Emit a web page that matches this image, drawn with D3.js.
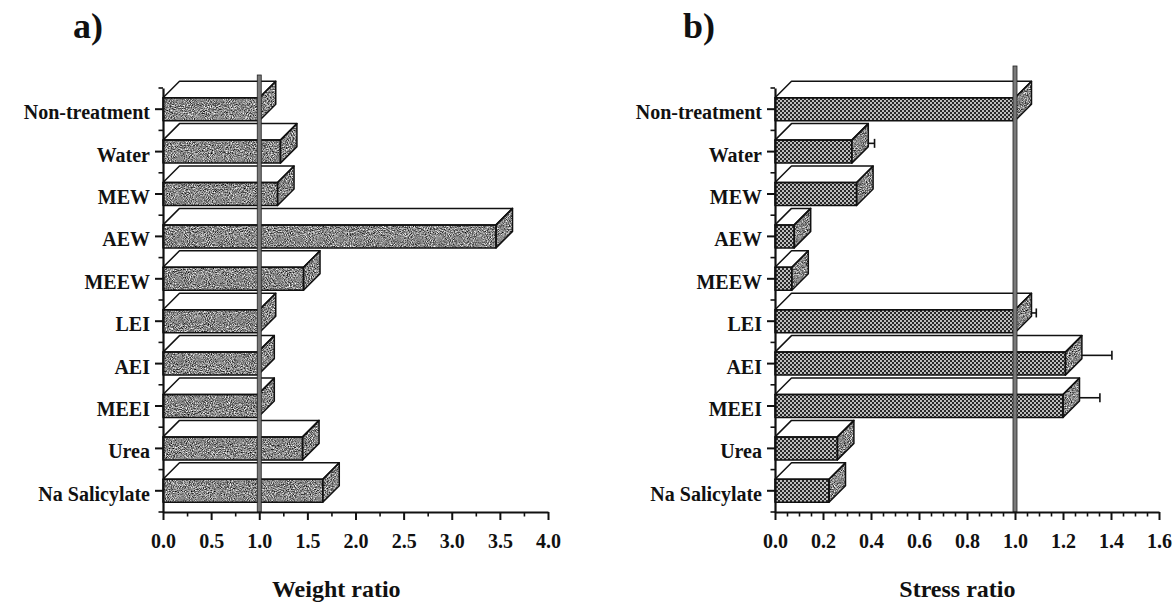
<!DOCTYPE html>
<html>
<head>
<meta charset="utf-8">
<script src="https://cdn.jsdelivr.net/npm/d3@7"></script>
<style>
  html, body { margin: 0; padding: 0; background: #fff; }
  svg { display: block; }
  text { font-family: "Liberation Serif", "Times New Roman", serif; font-weight: bold; fill: #111; }
</style>
</head>
<body>
<svg id="chart" width="1173" height="602"></svg>
<script>
// Treatments, listed top to bottom
const categories = ["Non-treatment", "Water", "MEW", "AEW", "MEEW", "LEI", "AEI", "MEEI", "Urea", "Na Salicylate"];

// Panel a) weight ratio
const weightRatio = [1.00, 1.22, 1.19, 3.46, 1.46, 1.00, 0.985, 0.985, 1.45, 1.66];
const weightTicks = [0, 0.5, 1.0, 1.5, 2.0, 2.5, 3.0, 3.5, 4.0];

// Panel b) stress ratio with its error (one-sided)
const stressRatio = [1.00, 0.32, 0.34, 0.08, 0.07, 1.00, 1.21, 1.20, 0.26, 0.225];
const stressError = [0, 0.026, 0, 0, 0, 0.02, 0.125, 0.085, 0, 0];
const stressTicks = [0, 0.2, 0.4, 0.6, 0.8, 1.0, 1.2, 1.4, 1.6];

const svg = d3.select("#chart");
svg.append("rect").attr("width", 1173).attr("height", 602).attr("fill", "#fff");

const defs = svg.append("defs");

// grainy grey fill for the shaded faces
const grain = defs.append("filter")
  .attr("id", "grain")
  .attr("x", 0).attr("y", 0).attr("width", 1).attr("height", 1)
  .attr("color-interpolation-filters", "sRGB");
grain.append("feTurbulence")
  .attr("type", "fractalNoise").attr("baseFrequency", 0.95)
  .attr("numOctaves", 2).attr("seed", 7).attr("result", "noise");
grain.append("feColorMatrix")
  .attr("in", "noise").attr("type", "matrix")
  .attr("values", "1.5 0 0 0 -0.22  1.5 0 0 0 -0.22  1.5 0 0 0 -0.22  0 0 0 0 1")
  .attr("result", "gray");
grain.append("feComposite").attr("in", "gray").attr("in2", "SourceGraphic").attr("operator", "in");

// dotted fill for the stress-ratio bars
const dots = defs.append("pattern")
  .attr("id", "dots").attr("patternUnits", "userSpaceOnUse")
  .attr("width", 4).attr("height", 4);
dots.append("rect").attr("width", 4).attr("height", 4).attr("fill", "#2a2a2a");
dots.append("circle").attr("cx", 1).attr("cy", 1).attr("r", 0.95).attr("fill", "#fff");
dots.append("circle").attr("cx", 3).attr("cy", 3).attr("r", 0.95).attr("fill", "#fff");

const yRange = [88, 512];
const depth = 16.5;
const frontH = 23;

function drawPanel(cfg) {
  const g = svg.append("g");
  const x = d3.scaleLinear().domain([cfg.ticks[0], cfg.ticks[cfg.ticks.length - 1]]).range(cfg.xRange);
  const y = d3.scaleBand().domain(categories).range(yRange).paddingInner(0).paddingOuter(0);
  const bw = y.bandwidth();

  const rows = categories.map((c, i) => {
    const yc = y(c) + bw / 2;
    return {
      c, v: cfg.values[i], e: cfg.errors ? cfg.errors[i] : 0,
      x0: x(0), x1: x(cfg.values[i]),
      ft: yc - frontH / 2, fb: yc + frontH / 2
    };
  });

  const poly = pts => "M" + pts.map(p => p.join(",")).join("L") + "Z";
  const topFace = r => poly([[r.x0, r.ft], [r.x0 + depth, r.ft - depth], [r.x1 + depth, r.ft - depth], [r.x1, r.ft]]);
  const sideFace = r => poly([[r.x1, r.ft], [r.x1 + depth, r.ft - depth], [r.x1 + depth, r.fb - depth], [r.x1, r.fb]]);
  const frontFace = r => poly([[r.x0, r.ft], [r.x1, r.ft], [r.x1, r.fb], [r.x0, r.fb]]);

  const bars = g.append("g").selectAll("g").data(rows).join("g");
  bars.append("path").attr("d", topFace).attr("fill", "#fff");
  bars.append("path").attr("d", sideFace).attr("fill", "#888").attr("filter", "url(#grain)");
  if (cfg.frontFill === "grain") {
    bars.append("path").attr("d", frontFace).attr("fill", "#888").attr("filter", "url(#grain)");
  } else {
    bars.append("path").attr("d", frontFace).attr("fill", "url(#dots)");
  }
  bars.append("path").attr("d", topFace).attr("fill", "none").attr("stroke", "#111").attr("stroke-width", 1.5).attr("stroke-linejoin", "round");
  bars.append("path").attr("d", sideFace).attr("fill", "none").attr("stroke", "#111").attr("stroke-width", 1.5).attr("stroke-linejoin", "round");
  bars.append("path").attr("d", frontFace).attr("fill", "none").attr("stroke", "#111").attr("stroke-width", 1.5).attr("stroke-linejoin", "round");

  // error bars leave from the outer edge of the bar, at mid height of the block
  const errRows = rows.filter(r => r.e > 0);
  const eg = g.append("g").attr("stroke", "#111").attr("stroke-width", 1.6);
  errRows.forEach(r => {
    const ym = (r.ft - depth + r.fb) / 2;
    const xe = x(r.v + r.e) + depth;
    eg.append("line").attr("x1", r.x1 + depth).attr("x2", xe).attr("y1", ym).attr("y2", ym);
    eg.append("line").attr("x1", xe).attr("x2", xe).attr("y1", ym - 4.5).attr("y2", ym + 4.5);
  });

  // reference line at ratio 1.0
  g.append("rect")
    .attr("x", x(1) - 2).attr("width", 4)
    .attr("y", cfg.refTop).attr("height", yRange[1] - cfg.refTop)
    .attr("fill", "#7a7a7a").attr("stroke", "#222").attr("stroke-width", 0.8);

  // x axis: labelled major ticks and short minor ticks
  const minor = d3.range(cfg.ticks[0], cfg.ticks[cfg.ticks.length - 1] + 1e-9, cfg.minorStep)
    .filter(v => !cfg.ticks.some(t => Math.abs(t - v) < 1e-9));
  const xMinor = g.append("g").attr("transform", `translate(0,${yRange[1]})`)
    .call(d3.axisBottom(x).tickValues(minor).tickSize(4.5).tickSizeOuter(0).tickFormat(""));
  xMinor.select(".domain").remove();
  xMinor.selectAll("line").attr("stroke", "#111").attr("stroke-width", 1.6);

  const xAxis = g.append("g").attr("transform", `translate(0,${yRange[1]})`)
    .call(d3.axisBottom(x).tickValues(cfg.ticks).tickSize(8).tickSizeOuter(0).tickPadding(14).tickFormat(d3.format(".1f")));
  xAxis.select(".domain").attr("stroke", "#111").attr("stroke-width", 2.2);
  xAxis.selectAll("line").attr("stroke", "#111").attr("stroke-width", 2);
  xAxis.selectAll("text").attr("font-size", 20).attr("fill", "#111")
    .style("font-family", "'Liberation Serif', 'Times New Roman', serif").style("font-weight", "bold");

  // y axis: category ticks at band centres, minor ticks at band edges
  const yAxis = g.append("g").attr("transform", `translate(${x(0)},0)`)
    .call(d3.axisLeft(y).tickSize(8).tickSizeOuter(0).tickPadding(5));
  yAxis.select(".domain").attr("stroke", "#111").attr("stroke-width", 2.2);
  yAxis.selectAll("line").attr("stroke", "#111").attr("stroke-width", 2);
  yAxis.selectAll("text").attr("font-size", 20).attr("dy", "0.5em").attr("fill", "#111")
    .style("font-family", "'Liberation Serif', 'Times New Roman', serif").style("font-weight", "bold");
  const edges = categories.map(c => y(c)).concat([yRange[1]]);
  yAxis.append("g").selectAll("line").data(edges).join("line")
    .attr("x1", -4.5).attr("x2", 0).attr("y1", d => d).attr("y2", d => d)
    .attr("stroke", "#111").attr("stroke-width", 1.6);

  // axis title
  g.append("text")
    .attr("x", x(cfg.titleAt)).attr("y", 597)
    .attr("text-anchor", "middle").attr("font-size", 24)
    .text(cfg.title);

  // panel letter
  g.append("text")
    .attr("x", x(0) - 60).attr("y", 38)
    .attr("text-anchor", "end").attr("font-size", 36)
    .text(cfg.letter);
}

drawPanel({
  values: weightRatio, errors: null, ticks: weightTicks, minorStep: 0.25,
  xRange: [163, 548], frontFill: "grain", refTop: 75,
  title: "Weight ratio", titleAt: 1.8, letter: "a)"
});

drawPanel({
  values: stressRatio, errors: stressError, ticks: stressTicks, minorStep: 0.05,
  xRange: [775, 1159], frontFill: "dots", refTop: 66,
  title: "Stress ratio", titleAt: 0.76, letter: "b)"
});
</script>
</body>
</html>
